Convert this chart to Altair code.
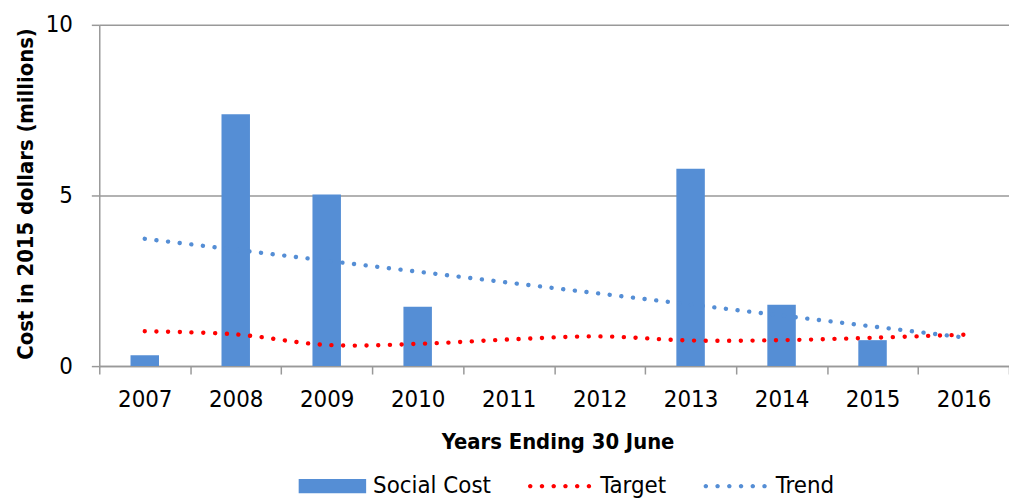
import altair as alt
import pandas as pd

years = ["2007", "2008", "2009", "2010", "2011", "2012", "2013", "2014", "2015", "2016"]
social_cost = [0.32, 7.38, 5.03, 1.74, 0.0, 0.0, 5.78, 1.80, 0.76, 0.0]
target = [1.02, 0.93, 0.62, 0.65, 0.78, 0.87, 0.75, 0.76, 0.83, 0.92]
trend_years = ["2007", "2016"]
trend = [3.73, 0.84]
series_names = ["Social Cost", "Target", "Trend"]
series_colors = ["#558ED5", "#FF0000", "#558ED5"]
y_ticks = [0, 5, 10]

FONT = "DejaVu Sans Condensed, Liberation Sans Narrow, Liberation Sans, sans-serif"
AXIS_GRAY = "#999999"

bars_df = pd.DataFrame({"year": years, "value": social_cost})
target_df = pd.DataFrame({"year": years, "value": target})
trend_df = pd.DataFrame({"year": trend_years, "value": trend})
legend_df = pd.DataFrame({"series": series_names})

# legend symbol shapes (unit square -1..1)
rect_path = "M-1,-0.21L1,-0.21L1,0.21L-1,0.21Z"
r = 0.066
dots = []
for k in range(6):
    cx = -0.87 + k * 0.348
    dots.append(f"M{cx - r:.3f},0A{r},{r} 0 1,0 {cx + r:.3f},0A{r},{r} 0 1,0 {cx - r:.3f},0Z")
dots_path = "".join(dots)

x_enc = alt.X(
    "year:N",
    sort=years,
    scale=alt.Scale(domain=years, paddingInner=0, paddingOuter=0),
    axis=alt.Axis(
        title="Years Ending 30 June",
        titleFont=FONT,
        titleFontSize=22,
        titleFontWeight="bold",
        titleColor="#000000",
        titleX=462,
        titleY=83,
        titleBaseline="alphabetic",
        labelFont=FONT,
        labelFontSize=24,
        labelColor="#000000",
        labelAngle=0,
        labelBaseline="alphabetic",
        labelPadding=33,
        tickBand="extent",
        tickSize=8,
        tickColor=AXIS_GRAY,
        tickWidth=1.5,
        domainColor=AXIS_GRAY,
        domainWidth=1.5,
        grid=False,
    ),
)

y_scale = alt.Scale(domain=[0, 10], nice=False, zero=True)
y_axis = alt.Axis(
    title="Cost in 2015 dollars (millions)",
    titleFont=FONT,
    titleFontSize=22,
    titleFontWeight="bold",
    titleColor="#000000",
    titleX=-67,
    titleY=170,
    titleBaseline="alphabetic",
    titleAngle=270,
    values=y_ticks,
    labelFont=FONT,
    labelFontSize=24,
    labelColor="#000000",
    labelPadding=19,
    tickSize=8,
    tickColor=AXIS_GRAY,
    tickWidth=1.5,
    domainColor=AXIS_GRAY,
    domainWidth=1.5,
    grid=True,
    gridColor=AXIS_GRAY,
    gridWidth=1.5,
)

bars = alt.Chart(bars_df).mark_bar(
    color="#558ED5", width=alt.RelativeBandSize(0.313)
).encode(
    x=x_enc,
    y=alt.Y("value:Q", scale=y_scale, axis=y_axis),
)

target_line = alt.Chart(target_df).mark_line(
    color="#FF0000",
    strokeWidth=4.4,
    strokeDash=[0.1, 11.7],
    strokeCap="round",
    interpolate="catmull-rom",
).encode(
    x=alt.X("year:N", sort=years),
    y=alt.Y("value:Q", scale=y_scale),
)

trend_line = alt.Chart(trend_df).mark_line(
    color="#558ED5",
    strokeWidth=4.4,
    strokeDash=[0.1, 11.7],
    strokeCap="round",
).encode(
    x=alt.X("year:N", sort=years),
    y=alt.Y("value:Q", scale=y_scale),
)

leg = alt.Legend(
    title=None,
    orient="none",
    legendX=201,
    legendY=431,
    direction="horizontal",
    symbolSize=4624,
    symbolStrokeWidth=0,
    symbolOpacity=1,
    labelFont=FONT,
    labelFontSize=24,
    labelColor="#000000",
    labelOffset=7,
    columnPadding=35,
    padding=0,
)

legend_layer = alt.Chart(legend_df).mark_point(filled=True, opacity=0).encode(
    x=alt.value(0),
    y=alt.value(0),
    color=alt.Color(
        "series:N",
        sort=series_names,
        scale=alt.Scale(domain=series_names, range=series_colors),
        legend=leg,
    ),
    shape=alt.Shape(
        "series:N",
        sort=series_names,
        scale=alt.Scale(domain=series_names, range=[rect_path, dots_path, dots_path]),
        legend=leg,
    ),
)

chart = (
    alt.layer(bars, target_line, trend_line, legend_layer)
    .properties(
        width=917,
        height=344,
        autosize=alt.AutoSizeParams(type="none"),
        padding={"left": 92, "top": 15, "right": 0, "bottom": 131},
        background="#ffffff",
    )
    .configure_view(stroke=None)
)

chart.save("out.html", embed_options={"renderer": "svg", "actions": False})
